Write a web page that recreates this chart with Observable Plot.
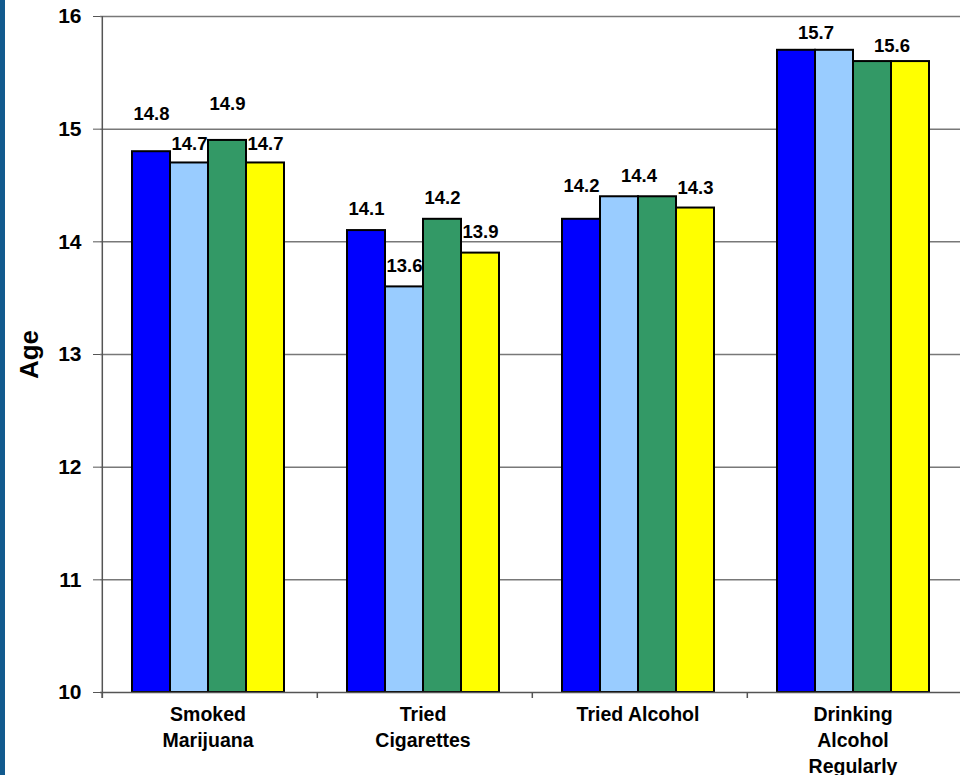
<!DOCTYPE html>
<html>
<head>
<meta charset="utf-8">
<script src="https://cdn.jsdelivr.net/npm/d3@7"></script>
<script src="https://cdn.jsdelivr.net/npm/@observablehq/plot@0.6"></script>
<style>
  html, body { margin: 0; padding: 0; background: #ffffff; }
  #wrap { position: relative; width: 961px; height: 775px; overflow: hidden; background: #ffffff; }
  #strip { position: absolute; left: 0; top: 0; width: 5px; height: 775px; background: #125a8e; }
  #chart { position: absolute; left: 0; top: 0; }
</style>
</head>
<body>
<div id="wrap"><div id="chart"></div><div id="strip"></div></div>
<script>
// ---- data ----
const categories = ["Smoked\nMarijuana", "Tried\nCigarettes", "Tried Alcohol", "Drinking\nAlcohol\nRegularly"];
const seriesNames = ["Group 1", "Group 2", "Group 3", "Group 4"];
const group1 = [14.8, 14.1, 14.2, 15.7];
const group2 = [14.7, 13.6, 14.4, 15.7];
const group3 = [14.9, 14.2, 14.4, 15.6];
const group4 = [14.7, 13.9, 14.3, 15.6];
const yTicks = [10, 11, 12, 13, 14, 15, 16];
// which bars carry a value label (category index, series index)
const labelCat    = [0, 0, 0, 0, 1, 1, 1, 1, 2, 2, 2, 3, 3];
const labelSeries = [0, 1, 2, 3, 0, 1, 2, 3, 0, 1, 3, 0, 2];

// ---- styles ----
const seriesColors = ["#0000ff", "#99ccff", "#339966", "#ffff00"];
const labelLift  = [38, 19, 36, 19, 21, 21, 21, 21, 33, 21, 20, 17, 15]; // px above bar top
const labelShift = [0, 0, 0, 0, 0, 0, 0, 0, 0, 1, 0, 1, 1];              // 1 = centred between bars

const seriesValues = [group1, group2, group3, group4];
const bars = [];
categories.forEach((c, i) => seriesNames.forEach((s, j) => bars.push({cat: c, series: s, value: seriesValues[j][i]})));

const H = 775, mTop = 16, mBottom = 83;
const unitsPerPx = (yTicks[yTicks.length - 1] - yTicks[0]) / (H - mTop - mBottom);

const labels = labelCat.map((ci, k) => {
  const v = seriesValues[labelSeries[k]][ci];
  return {cat: categories[ci], series: seriesNames[labelSeries[k]], value: v, text: v.toFixed(1),
          ypos: v + labelLift[k] * unitsPerPx, shift: labelShift[k]};
});

const W = 961, mLeft = 99, mRight = 0;
const facetW = (W - mLeft - mRight) / categories.length;
const padOuter = 0.76;
const bandW = facetW / (seriesNames.length + 2 * padOuter);
const tickDrop = 6 * unitsPerPx;
const font = "'Liberation Sans', Arial, Helvetica, sans-serif";

const chart = Plot.plot({
  width: W, height: H,
  marginTop: mTop, marginBottom: mBottom, marginLeft: mLeft, marginRight: mRight,
  fx: {domain: categories, padding: 0},
  x: {domain: seriesNames, paddingInner: 0, paddingOuter: padOuter, axis: null},
  y: {domain: [yTicks[0], yTicks[yTicks.length - 1]], axis: null},
  color: {domain: seriesNames, range: seriesColors},
  style: {fontFamily: font, background: "#ffffff", color: "#000"},
  marks: [
    Plot.gridY(yTicks.slice(1), {stroke: "#787878", strokeOpacity: 1, strokeWidth: 1.5}),
    Plot.barY(bars, {fx: "cat", x: "series", y1: yTicks[0], y2: "value", fill: "series", stroke: "#000", strokeWidth: 2}),
    Plot.ruleY([yTicks[0]], {stroke: "#555", strokeWidth: 1.5}),
    // left axis line (first facet only)
    Plot.ruleX([categories[0]], {fx: d => d, x: () => seriesNames[0], dx: -(padOuter * bandW + bandW / 2),
      y1: yTicks[0] - tickDrop, y2: yTicks[yTicks.length - 1], stroke: "#555", strokeWidth: 1.5}),
    // category boundary ticks
    Plot.ruleX(categories, {fx: d => d, x: () => seriesNames[0], dx: -(padOuter * bandW + bandW / 2),
      y1: yTicks[0] - tickDrop, y2: yTicks[0], stroke: "#555", strokeWidth: 1.5}),
    Plot.axisY(yTicks, {tickSize: 7, tickPadding: 12, tickFormat: "d", fontSize: 21, fontWeight: "bold", stroke: "#555", fill: "#000", label: null}),
    Plot.text(["Age"], {fx: () => categories[0], frameAnchor: "left", textAnchor: "middle", dx: -71, rotate: -90, fontSize: 26, fontWeight: "bold", fill: "#000"}),
    Plot.axisFx({anchor: "bottom", tickSize: 0, tickPadding: 10, fontSize: 19.5, fontWeight: "bold", lineHeight: 1.33, label: null, fill: "#000"}),
    Plot.text(labels.filter(d => !d.shift), {fx: "cat", x: "series", y: "ypos", text: "text", fontSize: 18.5, fontWeight: "bold", fill: "#000"}),
    Plot.text(labels.filter(d => d.shift), {fx: "cat", x: "series", y: "ypos", text: "text", dx: bandW / 2, fontSize: 18.5, fontWeight: "bold", fill: "#000"})
  ]
});
document.getElementById("chart").appendChild(chart);
</script>
</body>
</html>
